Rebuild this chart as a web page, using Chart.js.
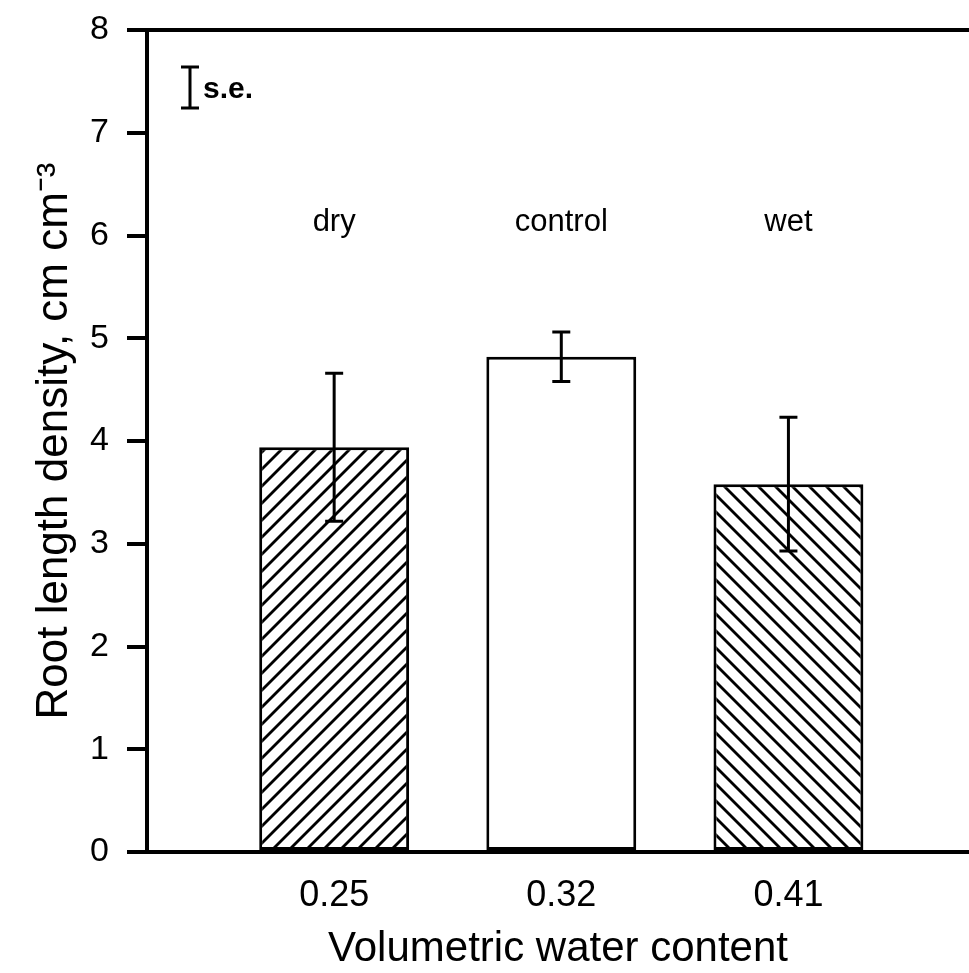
<!DOCTYPE html>
<html><head><meta charset="utf-8">
<script src="https://cdn.jsdelivr.net/npm/chart.js@4/dist/chart.umd.min.js"></script>
<style>html,body{margin:0;padding:0;background:#fff}#wrap{width:969px;height:973px;position:relative}</style>
</head><body><div id="wrap"><canvas id="c" width="969" height="973"></canvas></div>
<script>
const categories = ['0.25', '0.32', '0.41'];
const treatments = ['dry', 'control', 'wet'];
const rootDensity = [3.94, 4.82, 3.58];
const standardError = [0.72, 0.24, 0.65];
const yTickValues = [0, 1, 2, 3, 4, 5, 6, 7, 8];
const seKeyLength = 0.4;

const FONT = "'Liberation Sans', Arial, sans-serif";

function hatch(forward) {
  const s = 17;
  const c = document.createElement('canvas');
  c.width = s; c.height = s;
  const g = c.getContext('2d');
  g.fillStyle = '#fff'; g.fillRect(0, 0, s, s);
  g.strokeStyle = '#000'; g.lineWidth = 2.8; g.lineCap = 'square';
  const seg = (x1, y1, x2, y2) => { g.beginPath(); g.moveTo(x1, y1); g.lineTo(x2, y2); g.stroke(); };
  if (forward) {
    seg(-s, s, s, -s); seg(0, s, s, 0); seg(0, 2 * s, 2 * s, 0);
  } else {
    seg(0, 0, s, s); seg(-s, 0, s, 2 * s); seg(0, -s, 2 * s, s);
  }
  return g.createPattern(c, 'repeat');
}

const annotate = {
  id: 'annotate',
  afterDatasetsDraw(chart) {
    const ctx = chart.ctx;
    const xs = chart.scales.x, ys = chart.scales.y;
    const ca = chart.chartArea;
    ctx.save();
    ctx.strokeStyle = '#000';
    ctx.fillStyle = '#000';
    // top frame line
    ctx.lineWidth = 4;
    ctx.beginPath(); ctx.moveTo(ca.left - 2, ca.top); ctx.lineTo(chart.width, ca.top); ctx.stroke();
    // error bars
    ctx.lineWidth = 3;
    rootDensity.forEach((m, i) => {
      const x = xs.getPixelForValue(i);
      const yt = ys.getPixelForValue(m + standardError[i]);
      const yb = ys.getPixelForValue(m - standardError[i]);
      ctx.beginPath();
      ctx.moveTo(x, yt); ctx.lineTo(x, yb);
      ctx.moveTo(x - 9, yt); ctx.lineTo(x + 9, yt);
      ctx.moveTo(x - 9, yb); ctx.lineTo(x + 9, yb);
      ctx.stroke();
    });
    // treatment labels
    ctx.font = '31px ' + FONT;
    ctx.textAlign = 'center';
    ctx.textBaseline = 'middle';
    treatments.forEach((t, i) => {
      ctx.fillText(t, xs.getPixelForValue(i), ys.getPixelForValue(6.13));
    });
    // s.e. key
    const kx = ca.left + 43;
    const kt = ys.getPixelForValue(7.64);
    const kb = ys.getPixelForValue(7.64 - seKeyLength);
    ctx.beginPath();
    ctx.moveTo(kx, kt); ctx.lineTo(kx, kb);
    ctx.moveTo(kx - 9, kt); ctx.lineTo(kx + 9, kt);
    ctx.moveTo(kx - 9, kb); ctx.lineTo(kx + 9, kb);
    ctx.stroke();
    ctx.font = 'bold 30px ' + FONT;
    ctx.textAlign = 'left';
    ctx.textBaseline = 'alphabetic';
    ctx.fillText('s.e.', kx + 13, (kt + kb) / 2 + 10);
    ctx.restore();
  }
};

new Chart(document.getElementById('c'), {
  type: 'bar',
  data: {
    datasets: [{
      data: rootDensity.map((v, i) => ({ x: i, y: v })),
      backgroundColor: [hatch(true), '#ffffff', hatch(false)],
      borderColor: '#000',
      borderWidth: 3,
      borderSkipped: false,
      barPercentage: 0.66,
      categoryPercentage: 1
    }]
  },
  plugins: [annotate],
  options: {
    responsive: false,
    animation: false,
    layout: { padding: { top: 30, left: 0, right: 0, bottom: 0 } },
    plugins: { legend: { display: false }, tooltip: { enabled: false } },
    scales: {
      x: {
        type: 'linear',
        offset: false,
        bounds: 'data',
        min: -0.824,
        max: 2.795,
        afterBuildTicks: s => { s.ticks = categories.map((_, i) => ({ value: i })); },
        afterFit: s => { s.height = 121; s.paddingLeft = 0; s.paddingRight = 0; },
        ticks: {
          callback: v => categories[v],
          font: { size: 36, family: FONT },
          color: '#000',
          padding: 22,
          autoSkip: false,
          maxRotation: 0
        },
        grid: { display: false, drawTicks: false, offset: false },
        border: { display: true, color: '#000', width: 4 },
        title: {
          display: true,
          text: 'Volumetric water content',
          font: { size: 42, family: FONT, lineHeight: 1.1 },
          color: '#000',
          padding: { top: 0, bottom: 0 }
        }
      },
      y: {
        min: 0,
        max: 8,
        afterBuildTicks: s => { s.ticks = yTickValues.map(v => ({ value: v })); },
        afterFit: s => { s.width = 147; s.paddingTop = 0; s.paddingBottom = 0; },
        ticks: {
          font: { size: 34, family: FONT },
          color: '#000',
          padding: 18
        },
        grid: { display: true, drawOnChartArea: false, drawTicks: true, tickLength: 20, lineWidth: 4, color: '#000' },
        border: { display: true, color: '#000', width: 4 },
        title: {
          display: true,
          text: 'Root length density, cm cm\u207B\u00B3',
          font: { size: 44, family: FONT, lineHeight: 1.1 },
          color: '#000',
          padding: { top: 31, bottom: 0 }
        }
      }
    }
  }
});
</script>
</body></html>
